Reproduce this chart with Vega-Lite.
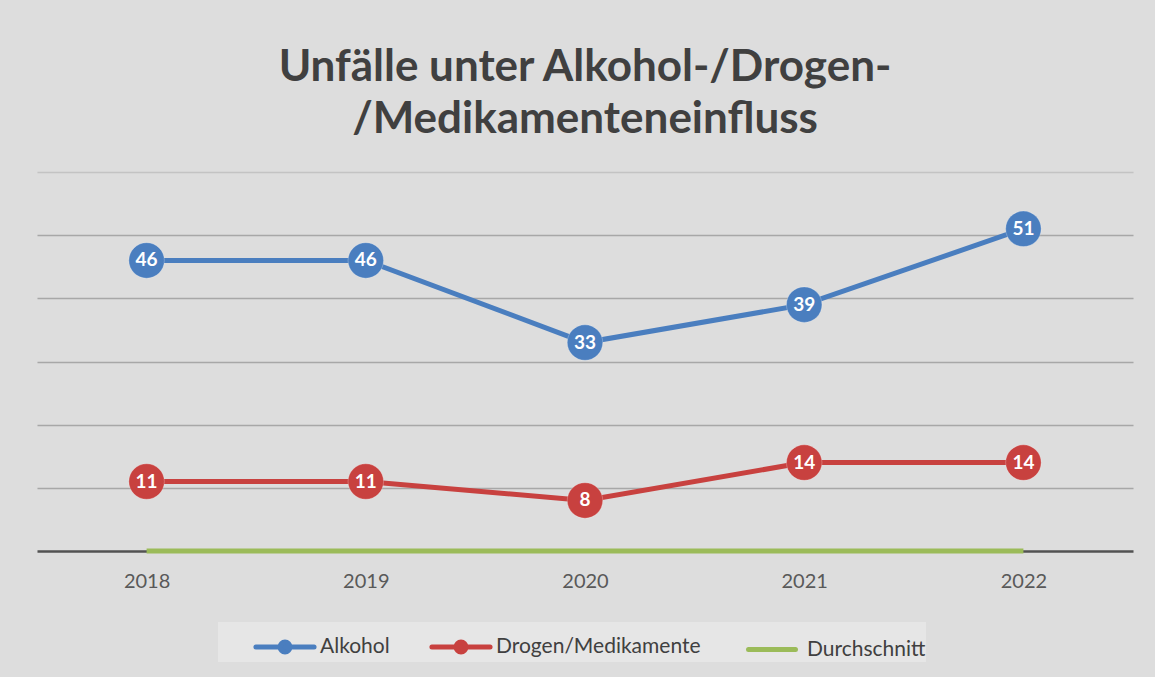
{
  "$schema": "https://vega.github.io/schema/vega-lite/v6.json",
  "width": 1096,
  "height": 379,
  "padding": {"left": 37, "top": 172, "right": 22, "bottom": 126},
  "autosize": {"type": "none"},
  "background": "#dddddd",
  "config": {
    "view": {"stroke": null},
    "font": "Lato"
  },
  "title": {
    "text": ["Unfälle unter Alkohol-/Drogen-", "/Medikamenteneinfluss"],
    "fontSize": 44,
    "font": "Lato",
    "fontWeight": "bold",
    "color": "#404040",
    "lineHeight": 52,
    "offset": 30,
    "anchor": "middle"
  },
  "data": {
    "values": [
      {"year": "2018", "series": "Alkohol", "value": 46},
      {"year": "2019", "series": "Alkohol", "value": 46},
      {"year": "2020", "series": "Alkohol", "value": 33},
      {"year": "2021", "series": "Alkohol", "value": 39},
      {"year": "2022", "series": "Alkohol", "value": 51},
      {"year": "2018", "series": "Drogen/Medikamente", "value": 11},
      {"year": "2019", "series": "Drogen/Medikamente", "value": 11},
      {"year": "2020", "series": "Drogen/Medikamente", "value": 8},
      {"year": "2021", "series": "Drogen/Medikamente", "value": 14},
      {"year": "2022", "series": "Drogen/Medikamente", "value": 14},
      {"year": "2018", "series": "Durchschnitt", "value": 0},
      {"year": "2019", "series": "Durchschnitt", "value": 0},
      {"year": "2020", "series": "Durchschnitt", "value": 0},
      {"year": "2021", "series": "Durchschnitt", "value": 0},
      {"year": "2022", "series": "Durchschnitt", "value": 0}
    ]
  },
  "encoding": {
    "x": {
      "field": "year",
      "type": "ordinal",
      "scale": {"type": "point", "padding": 0.5},
      "axis": {
        "title": null,
        "labelAngle": 0,
        "labelFontSize": 20,
        "labelColor": "#595959",
        "labelFont": "Lato",
        "labelPadding": 20,
        "ticks": false,
        "domain": false,
        "grid": false
      }
    },
    "y": {
      "field": "value",
      "type": "quantitative",
      "scale": {"domain": [0, 60], "nice": false},
      "axis": {
        "title": null,
        "labels": false,
        "ticks": false,
        "domain": false,
        "values": [0, 10, 20, 30, 40, 50, 60],
        "grid": true,
        "gridColor": {"condition": {"test": "datum.value === 0", "value": "#3a3a3a"}, "value": "#9e9e9e"},
        "gridWidth": {"condition": {"test": "datum.value === 0", "value": 2.5}, "value": 1.5},
        "gridOpacity": {"condition": {"test": "datum.value === 60", "value": 0.4}, "value": 0.85}
      }
    },
    "color": {
      "field": "series",
      "type": "nominal",
      "scale": {
        "domain": ["Alkohol", "Drogen/Medikamente", "Durchschnitt"],
        "range": ["#4a7ebf", "#c8413f", "#9bbb59"]
      },
      "legend": {
        "title": null,
        "orient": "none",
        "legendX": 181,
        "legendY": 450,
        "direction": "horizontal",
        "fillColor": "#e6e6e6",
        "padding": 0,
        "labelFontSize": 21,
        "labelFont": "Lato",
        "labelColor": "#404040",
        "labelOffset": 10,
        "labelLimit": 400,
        "columnPadding": 4,
        "symbolOffset": 42,
        "symbolSize": 2000,
        "symbolStrokeWidth": 5,
        "symbolType": "M-1.3,0H1.3",
        "encode": {
          "symbols": {
            "update": {
              "shape": {"signal": "datum.value === 'Durchschnitt' ? 'M-1.05,0H1.05' : 'M-1.3,0H-0.22A0.22,0.22,0,1,1,0.22,0H1.3M0.22,0A0.22,0.22,0,1,1,-0.22,0'"},
              "fill": {"signal": "datum.value === 'Durchschnitt' ? 'transparent' : scale('color', datum.value)"},
              "stroke": {"signal": "scale('color', datum.value)"},
              "strokeCap": {"value": "round"}
            }
          }
        }
      }
    }
  },
  "layer": [
    {
      "mark": {"type": "line", "strokeWidth": 5, "strokeCap": "butt"}
    },
    {
      "transform": [{"filter": "datum.series !== 'Durchschnitt'"}],
      "mark": {"type": "point", "filled": true, "size": 1260, "opacity": 1, "stroke": "#ffffff", "strokeOpacity": 0.25, "strokeWidth": 1}
    },
    {
      "transform": [{"filter": "datum.series !== 'Durchschnitt'"}],
      "mark": {"type": "text", "color": "#ffffff", "fontSize": 19, "fontWeight": "bold", "font": "Lato", "baseline": "middle", "align": "center"},
      "encoding": {
        "text": {"field": "value", "type": "quantitative"},
        "color": {"value": "#ffffff"}
      }
    }
  ]
}
